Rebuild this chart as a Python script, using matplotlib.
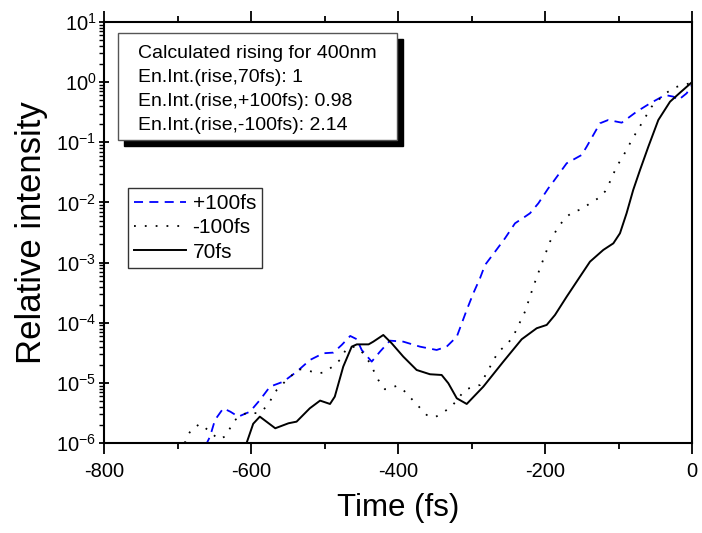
import matplotlib
matplotlib.use("Agg")
import matplotlib.pyplot as plt
import matplotlib.patches as mpatches
from matplotlib.ticker import FixedLocator, FixedFormatter, LogLocator, NullFormatter, MultipleLocator
import numpy as np

plt.rcParams['font.family'] = ['Liberation Sans', 'DejaVu Sans']

# ---- data (time in fs, log10 of relative intensity) ----
t_70 = [-606, -597, -588, -567, -549, -538, -520, -506, -492.5, -486, -474.5, -463, -456, -440, -433.6,
        -420, -408.6, -392.8, -374.6, -356.5, -340.6, -331.5, -320, -306.5, -283.9, -256.7,
        -231.7, -211.3, -197.7, -186.4, -170.5, -152.4, -138.8, -120.7, -107, -98, -89, -80,
        -70.7, -59.4, -45.8, -29.9, -16.3, 0]
l_70 = [-6.0, -5.68, -5.562, -5.755, -5.672, -5.645, -5.423, -5.295, -5.351, -5.229, -4.73, -4.398,
        -4.36, -4.36, -4.315, -4.204, -4.342, -4.564, -4.786, -4.857, -4.869, -5.007, -5.257,
        -5.351, -5.063, -4.647, -4.275, -4.092, -4.037, -3.871, -3.567, -3.234, -2.985, -2.79,
        -2.68, -2.513, -2.18, -1.793, -1.46, -1.073, -0.629, -0.325, -0.175, 0.0]

t_p100 = [-662, -655.8, -649, -637.7, -628, -617.3, -601.4, -587.8, -574.2, -556, -537.8, -519.7,
          -501.6, -488, -476.6, -465, -456, -449.4, -435.8, -424.5, -410.9, -392.8, -370.1, -347.4,
          -333.8, -320, -306.5, -297.5, -288.4, -281.6, -268, -254.4, -240.8, -227.2, -220.4, -209,
          -195.5, -188.7, -170.5, -150.1, -143.3, -125.2, -113.9, -95.6, -75.2, -57, -36.6, -25.4,
          -18.6, -7.3, 0]
l_p100 = [-6.05, -5.894, -5.617, -5.423, -5.48, -5.562, -5.479, -5.284, -5.063, -4.98, -4.814, -4.619,
          -4.508, -4.497, -4.37, -4.22, -4.275, -4.453, -4.647, -4.481, -4.298, -4.315, -4.398, -4.453,
          -4.398, -4.232, -3.788, -3.51, -3.26, -3.04, -2.82, -2.596, -2.347, -2.237, -2.18, -2.014,
          -1.765, -1.655, -1.349, -1.211, -1.073, -0.684, -0.629, -0.674, -0.49, -0.352, -0.214,
          -0.241, -0.297, -0.186, -0.047]

t_m100 = [-690, -687.5, -680.7, -669.4, -655.8, -644.5, -635.4, -621.8, -605.9, -590, -578.6, -565,
          -553.7, -535.6, -524.2, -510.6, -501.6, -490.3, -479, -469.8, -458.5, -447.2, -438.1,
          -426.8, -417.7, -401.9, -392.8, -381.4, -361, -349.7, -338.4, -327.1, -308.9, -297.6,
          -288.4, -277.1, -263.6, -252.2, -243, -227.2, -215.9, -206.8, -193.2, -181.9, -170.5,
          -161.5, -150, -138.8, -127.5, -118.4, -111.6, -102.5, -95.6, -89, -82, -75.2, -68.4,
          -61.7, -54.9, -45.8, -34.5, -23.1, -11.8, 0]
l_m100 = [-6.0, -5.904, -5.77, -5.683, -5.81, -5.937, -5.894, -5.617, -5.495, -5.506, -5.395, -5.118,
          -4.98, -4.774, -4.786, -4.841, -4.83, -4.741, -4.619, -4.425, -4.398, -4.508, -4.674,
          -4.952, -5.107, -5.052, -5.118, -5.268, -5.534, -5.573, -5.489, -5.395, -5.118, -5.063,
          -5.035, -4.786, -4.481, -4.37, -4.22, -3.816, -3.4, -3.095, -2.652, -2.403, -2.237,
          -2.154, -2.114, -2.014, -1.93, -1.82, -1.655, -1.405, -1.267, -1.128, -0.962, -0.824,
          -0.684, -0.546, -0.408, -0.297, -0.175, -0.086, -0.047, -0.01]

y_ticks = [1e-6, 1e-5, 1e-4, 1e-3, 1e-2, 1e-1, 1e0, 1e1]
y_ticklabels = ['$\\mathregular{10^{-6}}$', '$\\mathregular{10^{-5}}$', '$\\mathregular{10^{-4}}$',
                '$\\mathregular{10^{-3}}$', '$\\mathregular{10^{-2}}$', '$\\mathregular{10^{-1}}$',
                '$\\mathregular{10^{0}}$', '$\\mathregular{10^{1}}$']
x_ticks = [-800, -600, -400, -200, 0]
x_ticklabels = ['-800', '-600', '-400', '-200', '0']

info_lines = ["Calculated rising for 400nm",
              "En.Int.(rise,70fs): 1",
              "En.Int.(rise,+100fs): 0.98",
              "En.Int.(rise,-100fs): 2.14"]

W, H = 702, 533
fig = plt.figure(figsize=(W / 100, H / 100), dpi=100)
ax = fig.add_axes([104 / W, 1 - 443 / H, (692 - 104) / W, (443 - 22) / H])

ax.plot(t_p100, 10 ** np.array(l_p100), color='#0000ff', lw=1.3, ls=(0, (5, 3.5)), label='+100fs')
ax.plot(t_m100, 10 ** np.array(l_m100), color='black', lw=1.3, ls=(0, (1, 5)), label='-100fs')
ax.plot(t_70, 10 ** np.array(l_70), color='black', lw=1.4, ls='-', label='70fs')

ax.set_yscale('log')
ax.set_xlim(-800, 0)
ax.set_ylim(1e-6, 1e1)

ax.yaxis.set_major_locator(FixedLocator(y_ticks))
ax.yaxis.set_major_formatter(FixedFormatter(y_ticklabels))
ax.yaxis.set_minor_locator(LogLocator(base=10, subs=np.arange(2, 10)))
ax.yaxis.set_minor_formatter(NullFormatter())
ax.xaxis.set_major_locator(FixedLocator(x_ticks))
ax.xaxis.set_major_formatter(FixedFormatter(x_ticklabels))
ax.xaxis.set_minor_locator(MultipleLocator(100))

for s in ax.spines.values():
    s.set_linewidth(1.5)
ax.tick_params(axis='both', which='major', direction='out', width=1.3, labelsize=14.5)
ax.tick_params(axis='x', which='major', length=8, top=True, pad=6)
ax.tick_params(axis='x', which='minor', length=4, width=1.3, top=True, direction='out')
ax.tick_params(axis='y', which='major', length=7, direction='inout', pad=2)
ax.tick_params(axis='y', which='minor', length=3.5, width=1.0, direction='out')

ax.set_xlabel('Time (fs)', fontsize=22.5, labelpad=8)
ax.set_ylabel('Relative intensity', fontsize=25, labelpad=6)

# info box with shadow
bx0, by0, bx1, by1 = 118, 33, 397, 140
sh = 6
fig.patches.append(mpatches.Rectangle(((bx0 + sh) / W, 1 - (by1 + sh) / H), (bx1 - bx0) / W, (by1 - by0) / H,
                                      transform=fig.transFigure, facecolor='black', edgecolor='black', zorder=5))
fig.patches.append(mpatches.Rectangle((bx0 / W, 1 - by1 / H), (bx1 - bx0) / W, (by1 - by0) / H,
                                      transform=fig.transFigure, facecolor='white', edgecolor='#555555',
                                      lw=1.0, zorder=6))
for i, line in enumerate(info_lines):
    fig.text(138 / W, 1 - (53 + 24 * i) / H, line, fontsize=14, va='center', ha='left', zorder=7)

leg = ax.legend(loc='upper left', bbox_to_anchor=(128 / W, 1 - 188 / H), bbox_transform=fig.transFigure,
                fontsize=15, frameon=True, fancybox=False, handlelength=2.5, handletextpad=0.3,
                borderpad=0.3, labelspacing=0.25, borderaxespad=0)
leg.get_frame().set_edgecolor('black')
leg.get_frame().set_linewidth(1.0)

fig.savefig('out.png', dpi=100)
